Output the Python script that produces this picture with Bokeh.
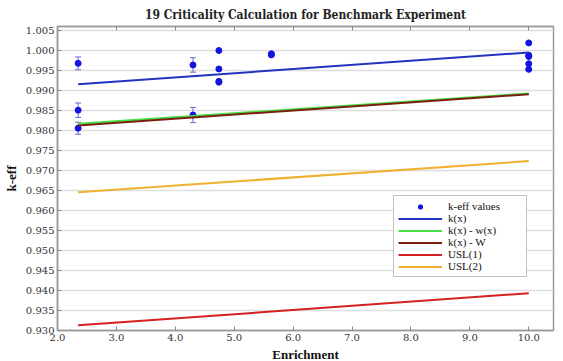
from bokeh.plotting import figure
from bokeh.models import (ColumnDataSource, Whisker, LinearAxis, Range1d, Legend,
                          LegendItem, FixedTicker, NumeralTickFormatter)
from bokeh.embed import file_html
from bokeh.resources import INLINE

# ---- data ----
enrich = [2.35, 2.35, 2.35, 4.30, 4.30, 4.74, 4.74, 4.74, 4.74, 5.63, 5.63,
          10.0, 10.0, 10.0, 10.0, 10.0]
keff = [0.9967, 0.9850, 0.9805, 0.9963, 0.9838, 0.9999, 0.9953, 0.9922, 0.9920,
        0.9991, 0.9988, 1.0018, 0.9987, 0.9984, 0.9966, 0.9952]
sigma = [0.0016, 0.0018, 0.0015, 0.0018, 0.0019, 0.0002, 0.0002, 0.0002, 0.0002,
         0.0002, 0.0002, 0.0002, 0.0002, 0.0002, 0.0002, 0.0002]

fit_x = [2.35, 10.0]
k_x = [0.9915, 0.9994]
k_minus_wx = [0.9816, 0.9892]
k_minus_W = [0.9812, 0.9890]
usl1 = [0.9313, 0.9393]
usl2 = [0.9645, 0.9723]

x_ticks = [2.0, 3.0, 4.0, 5.0, 6.0, 7.0, 8.0, 9.0, 10.0]
y_ticks = [0.930, 0.935, 0.940, 0.945, 0.950, 0.955, 0.960, 0.965, 0.970,
           0.975, 0.980, 0.985, 0.990, 0.995, 1.000, 1.005]

SERIF = "DejaVu Serif"
BOLD_SERIF = "Liberation Serif"

p = figure(width=555, height=364, output_backend="svg", toolbar_location=None,
           x_range=Range1d(2.0, 10.42), y_range=Range1d(0.930, 1.0059),
           min_border_left=48, min_border_right=2, min_border_top=4,
           min_border_bottom=0, title="19 Criticality Calculation for Benchmark Experiment")

p.title.align = "center"
p.title.text_font = "DejaVu Serif Condensed"
p.title.text_font_size = "12px"
p.title.text_font_style = "bold"
p.title.text_color = "#222222"
p.title.offset = -16

p.outline_line_color = "#9a9a9a"
p.outline_line_width = 1.5
p.xgrid.grid_line_color = None
p.ygrid.grid_line_color = "#dedede"
p.ygrid.grid_line_width = 1.5
p.ygrid.ticker = FixedTicker(ticks=y_ticks)

xa = p.xaxis[0]
xa.ticker = FixedTicker(ticks=x_ticks)
xa.formatter = NumeralTickFormatter(format="0.0")
xa.axis_label = "Enrichment"
ya = p.yaxis[0]
ya.ticker = FixedTicker(ticks=y_ticks)
ya.formatter = NumeralTickFormatter(format="0.000")
ya.axis_label = "k-eff"
for ax in (xa, ya):
    ax.major_label_text_font = SERIF
    ax.major_label_text_font_size = "10px"
    ax.major_label_text_color = "#333333"
    ax.axis_label_text_font = BOLD_SERIF
    ax.axis_label_text_font_size = "13px"
    ax.axis_label_text_font_style = "bold"
    ax.axis_label_text_color = "#111111"
    ax.axis_line_color = "#9a9a9a"
    ax.axis_line_width = 1.5
    ax.major_tick_line_color = "#888888"
    ax.major_tick_in = 4
    ax.major_tick_out = 0
    ax.minor_tick_line_color = None
    ax.major_label_standoff = 3
xa.axis_label_standoff = 3
ya.axis_label_standoff = 4

top = LinearAxis(ticker=FixedTicker(ticks=x_ticks),
                 major_label_overrides={t: "" for t in x_ticks},
                 major_label_standoff=0,
                 major_tick_in=4, major_tick_out=0, major_tick_line_color="#888888",
                 minor_tick_line_color=None, axis_line_color="#9a9a9a",
                 axis_line_width=1.5)
p.add_layout(top, "above")

# error bars
src = ColumnDataSource(dict(x=enrich, y=keff,
                            lo=[k - s for k, s in zip(keff, sigma)],
                            hi=[k + s for k, s in zip(keff, sigma)]))
wh = Whisker(source=src, base="x", lower="lo", upper="hi",
             line_color="#6a6ad0", line_width=1)
wh.upper_head.size = 6
wh.lower_head.size = 6
wh.upper_head.line_color = "#6a6ad0"
wh.lower_head.line_color = "#6a6ad0"
p.add_layout(wh)

pts = p.scatter("x", "y", source=src, size=6, color="#1414e0")

l1 = p.line(fit_x, k_x, line_color="#2233c0", line_width=2)
l2 = p.line(fit_x, k_minus_wx, line_color="#44e044", line_width=2)
l3 = p.line(fit_x, k_minus_W, line_color="#7a2010", line_width=2)
l4 = p.line(fit_x, usl1, line_color="#d42020", line_width=2)
l5 = p.line(fit_x, usl2, line_color="#f0b030", line_width=2)

legend = Legend(items=[
    LegendItem(label="k-eff values", renderers=[pts]),
    LegendItem(label="k(x)", renderers=[l1]),
    LegendItem(label="k(x) - w(x)", renderers=[l2]),
    LegendItem(label="k(x) - W", renderers=[l3]),
    LegendItem(label="USL(1)", renderers=[l4]),
    LegendItem(label="USL(2)", renderers=[l5]),
], location=(336, 53))
legend.label_text_font = "Liberation Serif"
legend.label_text_font_size = "11px"
legend.label_text_color = "#111111"
legend.label_height = 11
legend.label_width = 74
legend.glyph_height = 11
legend.glyph_width = 44
legend.label_standoff = 6
legend.spacing = -1
legend.padding = 4
legend.margin = 0
legend.border_line_color = "#888888"
legend.border_line_width = 1
legend.background_fill_alpha = 1.0
p.add_layout(legend, "center")

open("out.html", "w").write(file_html(p, INLINE))
